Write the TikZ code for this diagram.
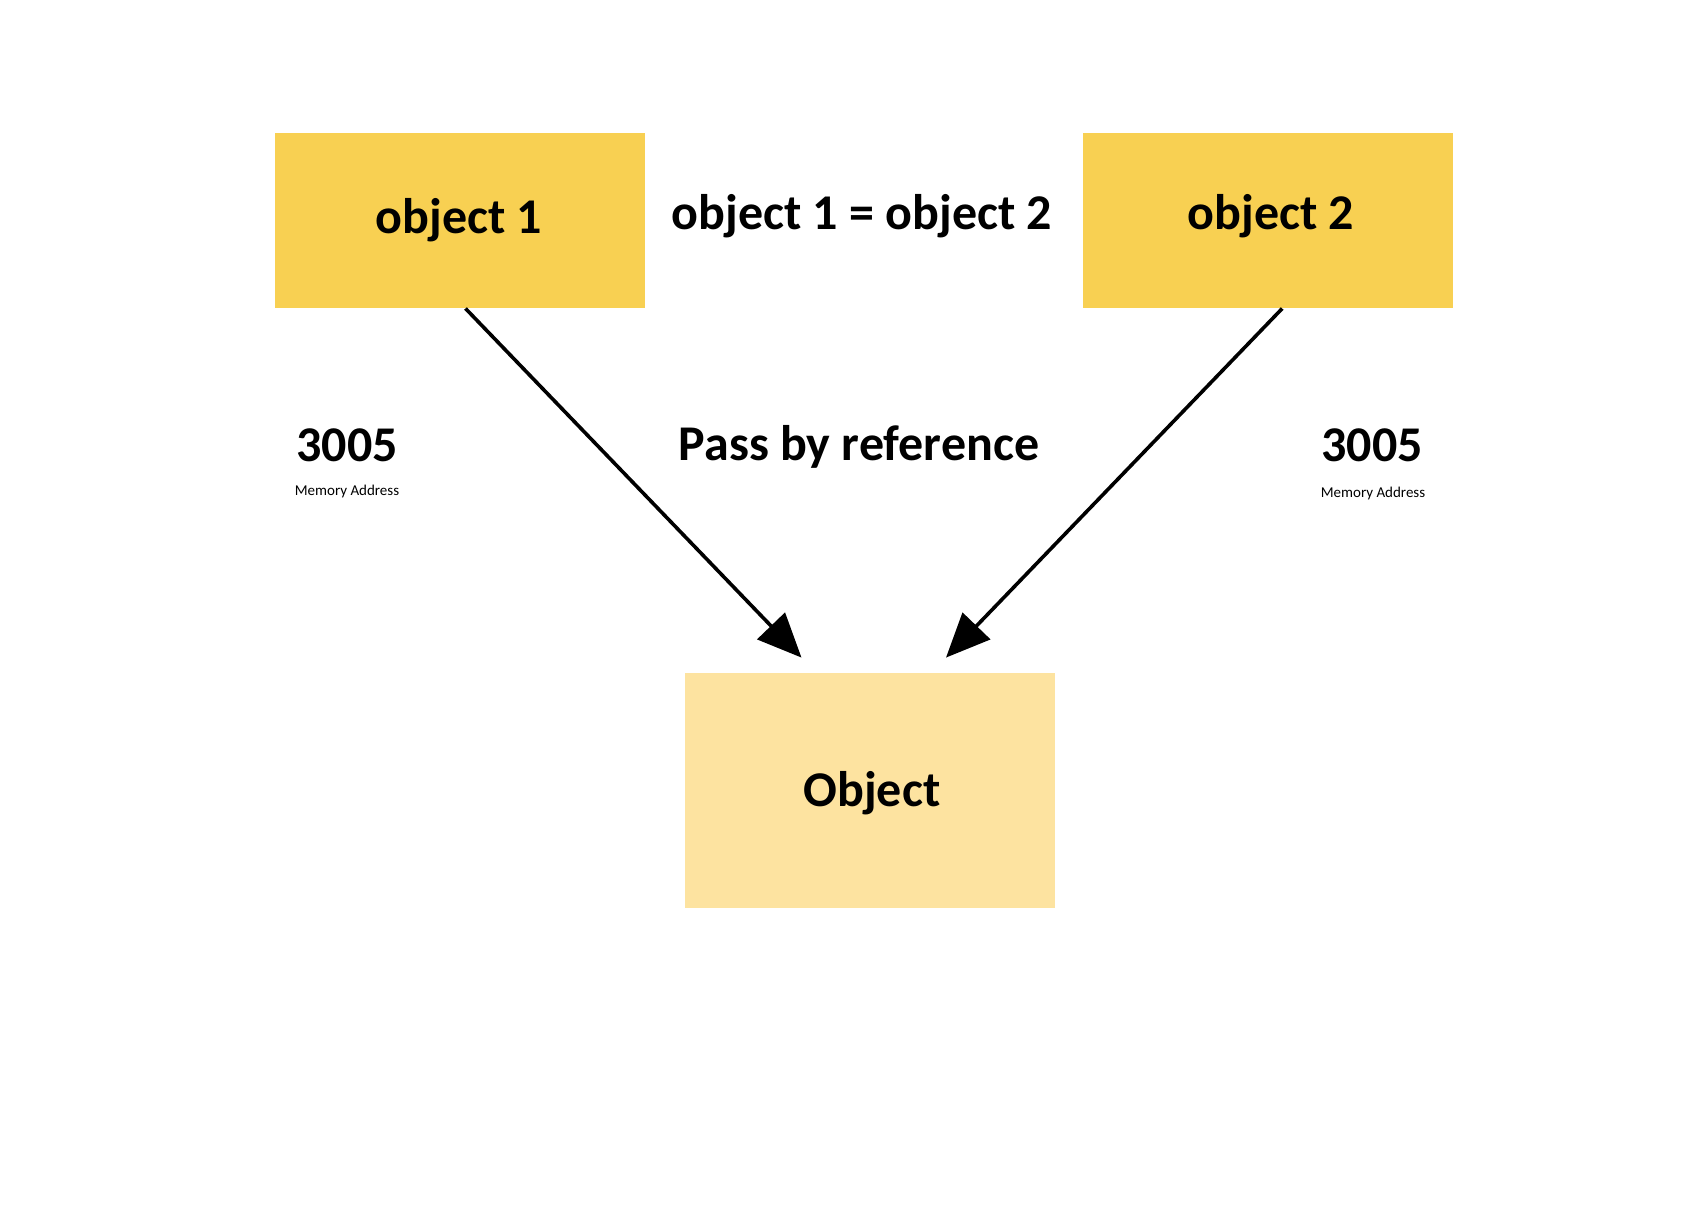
\documentclass[tikz,border=0pt]{standalone}
\usepackage{fontspec}
\setmainfont{Carlito}
\usetikzlibrary{arrows.meta}
\definecolor{boxgold}{HTML}{F8D052}
\definecolor{boxpale}{HTML}{FDE3A0}
\begin{document}
\begin{tikzpicture}[x=1pt,y=-1pt,
  varbox/.style={fill=boxgold,draw=none,minimum width=370pt,minimum height=175pt,inner sep=0pt},
  objbox/.style={fill=boxpale,draw=none,minimum width=370pt,minimum height=235pt,inner sep=0pt},
  bigtext/.style={font=\fontsize{50}{60}\selectfont\bfseries,inner sep=0pt},
  smalltext/.style={font=\fontsize{15}{18}\selectfont,inner sep=0pt},
  refarrow/.style={line width=3.6pt,-{Triangle[length=44pt,width=38pt]}}]
  \useasboundingbox (0,0) rectangle (1701,1214);

  % the two reference variables
  \node[varbox] (o1) at (459.5,220.8) {};
  \node[bigtext] (o1t) at (459,220) {object 1};
  \node[varbox] (o2) at (1267.6,220.8) {};
  \node[bigtext] (o2t) at (1271,216) {object 2};
  \node[bigtext] (assign) at (862,216) {object 1 = object 2};

  % the shared object
  \node[objbox] (obj) at (869.5,790.3) {};
  \node[bigtext] (objt) at (872,793) {Object};

  % labels
  \node[bigtext] (pass) at (859,446.5) {Pass by reference};
  \node[bigtext] (addr1) at (347,445) {3005};
  \node[smalltext] (mem1) at (347,491.5) {Memory Address};
  \node[bigtext] (addr2) at (1372,445) {3005};
  \node[smalltext] (mem2) at (1373,494) {Memory Address};

  % references pointing at the object
  \draw[refarrow] ([xshift=6pt]o1.south) -- ([xshift=-68pt,yshift=15pt]obj.north);
  \draw[refarrow] ([xshift=14.6pt]o2.south) -- ([xshift=76.5pt,yshift=15pt]obj.north);
\end{tikzpicture}
\end{document}
